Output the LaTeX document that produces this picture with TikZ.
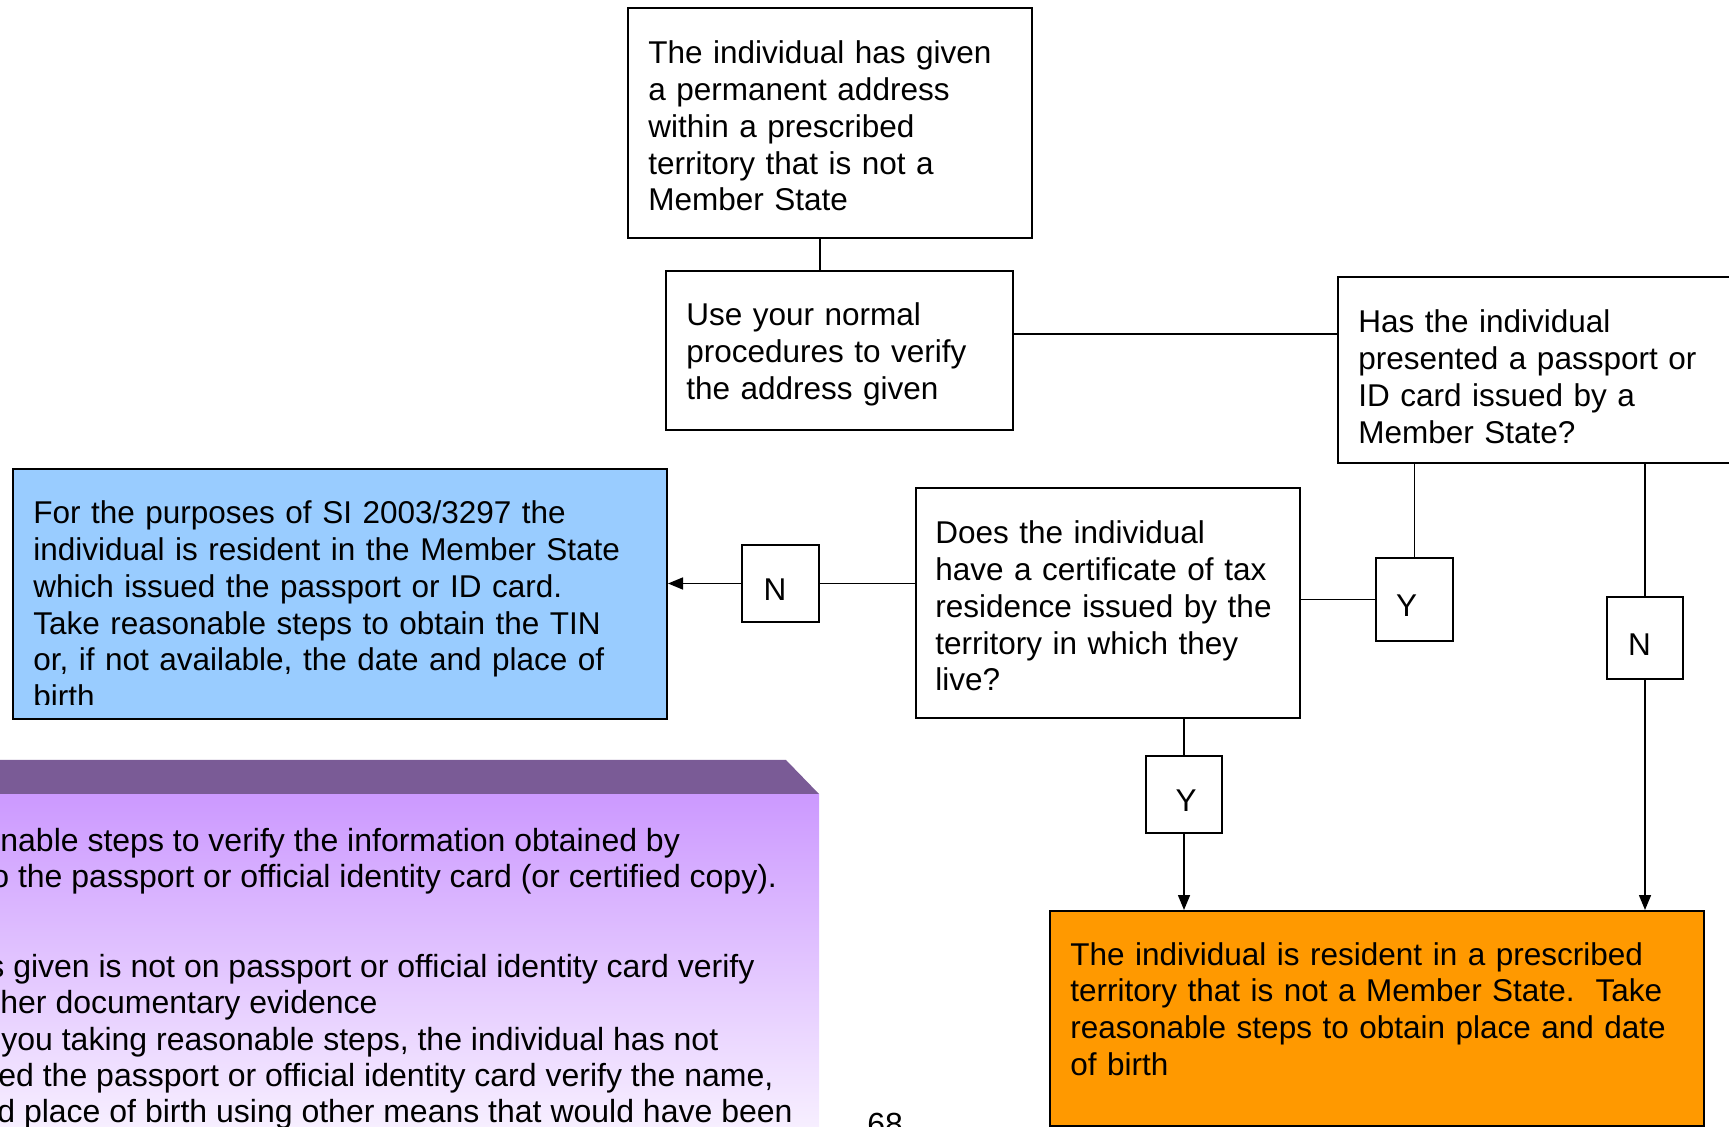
\documentclass[tikz,border=0pt]{standalone}
\usepackage{fontspec}
\setmainfont{Liberation Sans}
\usetikzlibrary{arrows.meta,calc,positioning}
\definecolor{bluebox}{HTML}{99CCFF}
\definecolor{orangebox}{HTML}{FF9900}
\definecolor{purpleband}{HTML}{7A5B96}
\definecolor{purplebody}{HTML}{CC99FF}
\newcommand{\boxfont}{\fontsize{15.75pt}{18.35pt}\selectfont}
\newcommand{\notefont}{\fontsize{16pt}{18.35pt}\selectfont}

\begin{document}
\begin{tikzpicture}[
	x=0.5pt, y=-0.5pt,
	box/.style={draw, line width=1pt, anchor=north west, inner sep=0pt},
	boxtext/.style={anchor=base west, inner sep=0pt, align=left, text width=#1, font=\boxfont},
	yn/.style={draw, line width=1pt, inner sep=0pt, font=\boxfont, text height=17.3pt, text depth=0pt},
	link/.style={line width=.8pt},
	arr/.style={line width=.8pt, -{Triangle[length=7.5pt,width=6pt]}}
	]
	
	\path[use as bounding box, clip] (0,0) rectangle (1729,1127);
	
	%------------------------------
	% Purple note (cut off at the left and bottom)
	%------------------------------
	\fill[purpleband] (-20,760) -- (786,760) -- (819,794) -- (-20,794) -- cycle;
	\shade[top color=purplebody, bottom color=white] (-20,794) rectangle (819,1190);
	
	\foreach \px/\py/\ln [count=\i] in {
		0/851/{nable steps to verify the information obtained by},
		-9/887/{o the passport or official identity card (or certified copy).},
		-12/977/{s given is not on passport or official identity card verify},
		0/1013/{her documentary evidence},
		1/1050/{you taking reasonable steps, the individual has not},
		-2/1086/{ed the passport or official identity card verify the name,},
		-3/1122/{d place of birth using other means that would have been}}{
		\node[anchor=base west, inner sep=0pt, font=\notefont] (note\i) at (\px,\py) {\ln};
	}
	
	\node[anchor=base west, inner sep=0pt, font=\notefont] (pagenum) at (867,1135) {68};
	
	%------------------------------
	% Boxes
	%------------------------------
	\node[box, minimum width=202pt, minimum height=115pt] (addr) at (627,7) {};
	\node[boxtext=190pt] (addrtext) at ($(addr.north west)+(21,57)$)
	{The individual has given\\a permanent address\\within a prescribed\\territory that is not a\\Member State};
	
	\node[box, minimum width=173.5pt, minimum height=79.5pt] (verify) at (665,270) {};
	\node[boxtext=160pt] (verifytext) at ($(verify.north west)+(21,56)$)
	{Use your normal\\procedures to verify\\the address given};
	
	\node[box, minimum width=230pt, minimum height=93pt] (passport) at (1337,276) {};
	\node[boxtext=200pt] (passporttext) at ($(passport.north west)+(21,57)$)
	{Has the individual\\presented a passport or\\ID card issued by a\\Member State?};
	
	\node[box, fill=bluebox, minimum width=327pt, minimum height=125pt] (memberstate) at (12,468) {};
	\begin{scope}
		\clip (memberstate.north west) rectangle ($(memberstate.south east)+(0,-15)$);
		\node[boxtext=310pt] (memberstatetext) at ($(memberstate.north west)+(21,56)$)
		{For the purposes of SI 2003/3297 the\\individual is resident in the Member State\\which issued the passport or ID card.\\Take reasonable steps to obtain the TIN\\or, if not available, the date and place of\\birth};
	\end{scope}
	
	\node[box, minimum width=192pt, minimum height=115pt] (cert) at (915,487) {};
	\node[boxtext=175pt] (certtext) at ($(cert.north west)+(20,57)$)
	{Does the individual\\have a certificate of tax\\residence issued by the\\territory in which they\\live?};
	
	\node[box, fill=orangebox, minimum width=327pt, minimum height=107.5pt] (territory) at (1049,910) {};
	\node[boxtext=310pt] (territorytext) at ($(territory.north west)+(21,55)$)
	{\frenchspacing The individual is resident in a prescribed\\territory that is not a Member State.\ \ Take\\reasonable steps to obtain place and date\\of birth};
	
	% Y / N answers
	\node[yn, minimum width=38.5pt, minimum height=38.5pt] (nleft) at (780.5,583.5) {\hspace*{-5.5pt}N};
	\node[yn, minimum width=38.5pt, minimum height=41.5pt] (yright) at (1414.5,599.5) {\hspace*{-7.8pt}Y};
	\node[yn, minimum width=38pt, minimum height=38.5pt] (ylow) at (1184,794.5) {\hspace*{2.2pt}Y};
	\node[yn, minimum width=38pt, minimum height=41pt] (nright) at (1645,638) {\hspace*{-5.5pt}N};
	
	%------------------------------
	% Connectors
	%------------------------------
	\coordinate (addrfoot) at ([xshift=-5pt]addr.south);
	\draw[link] (addrfoot) -- (addrfoot |- verify.north);
	\coordinate (verifyout) at ([yshift=8.25pt]verify.east);
	\draw[link] (verifyout) -- (verifyout -| passport.west);
	\draw[link] (yright.north) -- (yright.north |- passport.south);
	\draw[link] (nright.north) -- (nright.north |- passport.south);
	\draw[link] (yright.west) -- (yright.west -| cert.east);
	\draw[link] (nleft.east) -- (nleft.east -| cert.west);
	\draw[arr] (nleft.west) -- (nleft.west -| memberstate.east);
	\draw[link] (ylow.north) -- (ylow.north |- cert.south);
	\draw[arr] (ylow.south) -- (ylow.south |- territory.north);
	\draw[arr] (nright.south) -- (nright.south |- territory.north);
\end{tikzpicture}
\end{document}
